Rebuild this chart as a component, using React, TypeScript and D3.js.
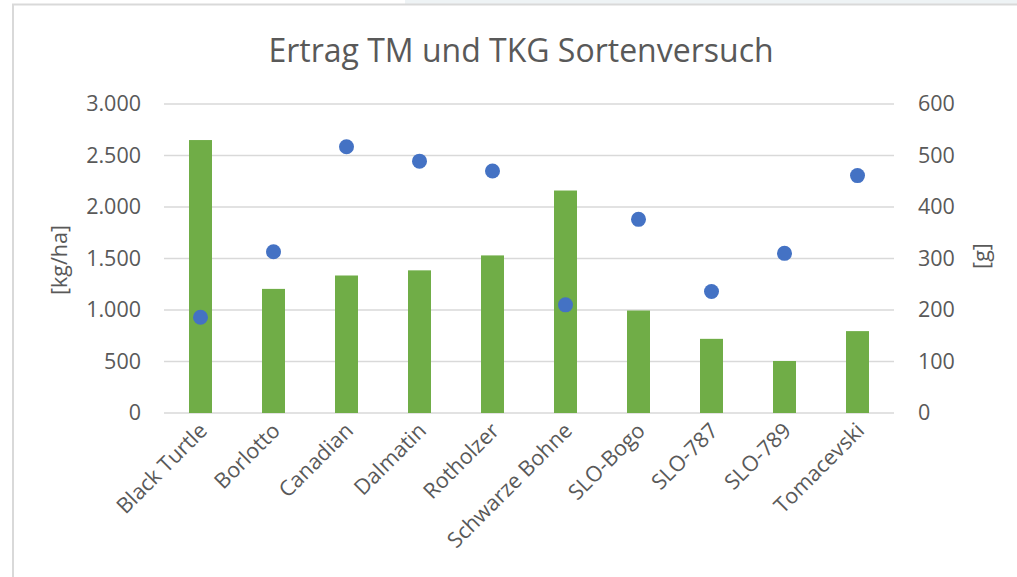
import { useRef, useEffect } from 'react';
import * as d3 from 'd3';

const categories = ['Black Turtle', 'Borlotto', 'Canadian', 'Dalmatin', 'Rotholzer', 'Schwarze Bohne', 'SLO-Bogo', 'SLO-787', 'SLO-789', 'Tomacevski'];
// Ertrag TM [kg/ha] (bars, left axis)
const yieldValues = [2650, 1205, 1335, 1385, 1530, 2160, 995, 720, 505, 795];
// TKG [g] (dots, right axis)
const tkgValues = [186, 313, 517, 489, 470, 210, 376, 236, 310, 461];
const leftTicks = [0, 500, 1000, 1500, 2000, 2500, 3000];
const rightTicks = [0, 100, 200, 300, 400, 500, 600];

const width = 1017;
const height = 577;
const marginLeft = 164;
const marginRight = 123;
const plotTop = 104;
const plotBottom = 413;
const textColor = '#595959';
const font = '"Open Sans", sans-serif';
const labelSize = 21.5;

const de = d3.formatLocale({ decimal: ',', thousands: '.', grouping: [3], currency: ['', ' €'] });
const fmt = de.format(',');

export default function App() {
  const gyLeft = useRef<SVGGElement>(null);
  const gyRight = useRef<SVGGElement>(null);

  const x = d3.scaleBand(categories, [marginLeft, width - marginRight])
    .paddingInner(0.685)
    .paddingOuter(0.3425);
  const yL = d3.scaleLinear([0, 3000], [plotBottom, plotTop]);
  const yR = d3.scaleLinear([0, 600], [plotBottom, plotTop]);

  useEffect(() => {
    const g = d3.select(gyLeft.current!)
      .call(d3.axisLeft(yL).tickValues(leftTicks).tickFormat(d => fmt(d as number)).tickSize(0).tickPadding(23));
    g.select('.domain').remove();
    g.selectAll('text').attr('fill', textColor).style('font-family', font).style('font-size', `${labelSize}px`);
  }, []);

  useEffect(() => {
    const g = d3.select(gyRight.current!)
      .call(d3.axisRight(yR).tickValues(rightTicks).tickSize(0).tickPadding(24));
    g.select('.domain').remove();
    g.selectAll('text').attr('fill', textColor).style('font-family', font).style('font-size', `${labelSize}px`);
  }, []);

  const cx = (c: string) => x(c)! + x.bandwidth() / 2;

  return (
    <svg width={width} height={height} style={{ position: 'absolute', left: 0, top: 0, background: '#fff' }}>
      <rect x={405} y={0} width={width - 405} height={4} fill="#eef3f5" />
      <line x1={12} x2={width} y1={4.5} y2={4.5} stroke="#d9d9d9" strokeWidth={2} />
      <line x1={13} x2={13} y1={4} y2={height} stroke="#d9d9d9" strokeWidth={2} />

      <text x={521} y={62} textAnchor="middle" fill={textColor} style={{ fontFamily: font, fontSize: 32 }}>
        Ertrag TM und TKG Sortenversuch
      </text>

      <g stroke="#d9d9d9" strokeWidth={1.5}>
        {leftTicks.map(t => (
          <line key={t} x1={marginLeft} x2={width - marginRight} y1={yL(t)} y2={yL(t)} />
        ))}
      </g>

      <g fill="#70ad47">
        {yieldValues.map((v, i) => (
          <rect key={i} x={x(categories[i])} y={yL(v)} width={x.bandwidth()} height={yL(0) - yL(v)} />
        ))}
      </g>

      <g fill="#4472c4">
        {tkgValues.map((v, i) => (
          <circle key={i} cx={cx(categories[i])} cy={yR(v)} r={7.5} />
        ))}
      </g>

      <g ref={gyLeft} transform={`translate(${marginLeft},0)`} />
      <g ref={gyRight} transform={`translate(${width - marginRight},0)`} />

      <g fill={textColor} style={{ fontFamily: font, fontSize: labelSize }}>
        {categories.map(c => (
          <text key={c} textAnchor="end" transform={`translate(${cx(c) + 8},${432}) rotate(-45)`}>
            {c}
          </text>
        ))}
      </g>

      <text transform={`translate(67,260) rotate(-90)`} textAnchor="middle" fill={textColor} style={{ fontFamily: font, fontSize: labelSize }}>
        [kg/ha]
      </text>
      <text transform={`translate(989,256) rotate(-90)`} textAnchor="middle" fill={textColor} style={{ fontFamily: font, fontSize: labelSize }}>
        [g]
      </text>
    </svg>
  );
}
